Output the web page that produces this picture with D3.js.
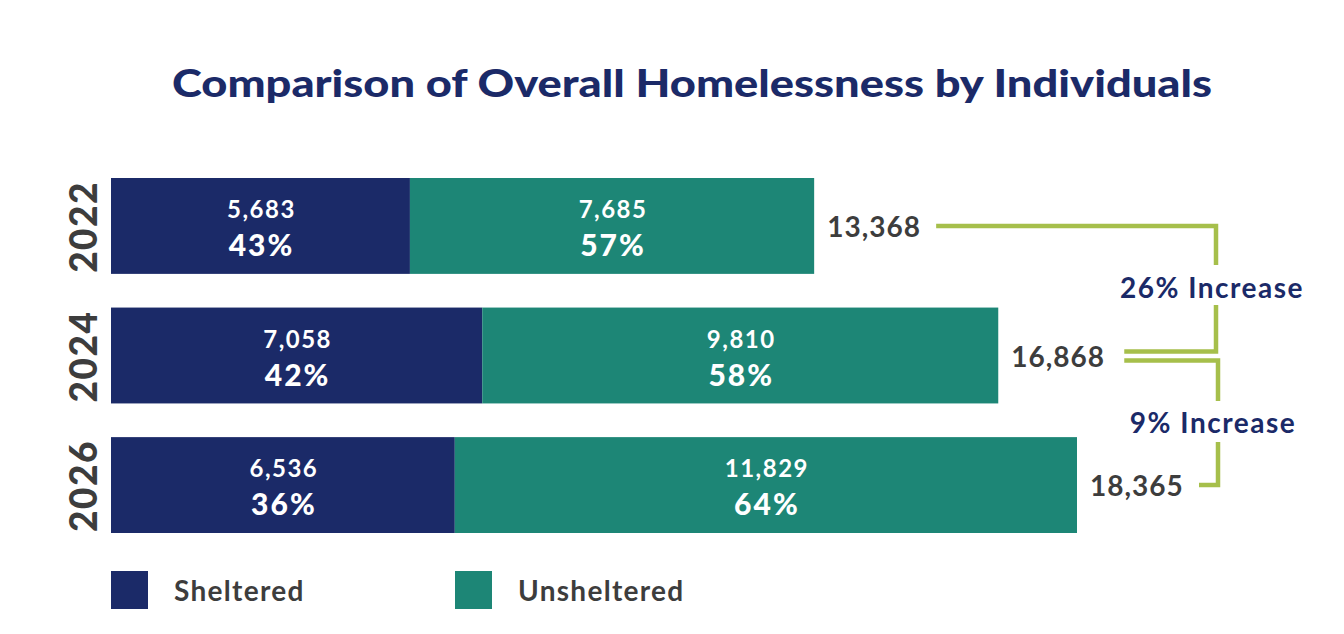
<!DOCTYPE html>
<html><head><meta charset="utf-8">
<script src="https://cdn.jsdelivr.net/npm/d3@7"></script>
<style>
html,body{margin:0;padding:0;background:#fff;}
svg{display:block;font-family:Lato, "Open Sans", sans-serif;}
</style></head>
<body>
<svg id="chart" width="1344" height="634"></svg>
<script>
const years = ["2022", "2024", "2026"];
const sheltered = [5683, 7058, 6536];
const unsheltered = [7685, 9810, 11829];
const shelteredPct = ["43%", "42%", "36%"];
const unshelteredPct = ["57%", "58%", "64%"];
const totals = [13368, 16868, 18365];
const increases = ["26% Increase", "9% Increase"];
const seriesNames = ["Sheltered", "Unsheltered"];
const colors = ["#1b2a68", "#1d8676"];

const svg = d3.select("#chart");
const fmt = d3.format(",");
const navy = "#1b2a68", grey = "#3d3d3d", green = "#a6bf4b";

svg.append("text").attr("x", 692).attr("y", 97).attr("text-anchor", "middle")
  .attr("font-size", 38).attr("font-weight", 900).attr("fill", navy)
  .attr("textLength", 1040).attr("lengthAdjust", "spacingAndGlyphs")
  .text("Comparison of Overall Homelessness by Individuals");

const x = d3.scaleLinear().domain([0, d3.max(totals)]).range([111, 1077]);
const y = d3.scaleBand().domain(years).range([178, 533]).paddingInner(0.26).paddingOuter(0);

const rows = years.map((yr, i) => ({yr, s: sheltered[i], u: unsheltered[i], sp: shelteredPct[i], up: unshelteredPct[i], t: totals[i]}));

const g = svg.append("g");
rows.forEach(r => {
  const y0 = y(r.yr), bh = y.bandwidth();
  const segs = [
    {x0: 0, x1: r.s, v: r.s, p: r.sp, c: colors[0]},
    {x0: r.s, x1: r.s + r.u, v: r.u, p: r.up, c: colors[1]}
  ];
  segs.forEach(s => {
    g.append("rect").attr("x", x(s.x0)).attr("y", y0).attr("width", x(s.x1) - x(s.x0)).attr("height", bh).attr("fill", s.c);
    const cx = (x(s.x0) + x(s.x1)) / 2;
    g.append("text").attr("x", cx + 1).attr("y", y0 + bh/2 - 8).attr("text-anchor", "middle")
      .attr("font-size", 24).attr("font-weight", 700).attr("letter-spacing", 1.5).attr("fill", "#fff").text(fmt(s.v));
    g.append("text").attr("x", cx + 1).attr("y", y0 + bh/2 + 30).attr("text-anchor", "middle")
      .attr("font-size", 30).attr("font-weight", 900).attr("letter-spacing", 2).attr("fill", "#fff").text(s.p);
  });
  g.append("text").attr("transform", `translate(97,${y0 + bh/2 + 1}) rotate(-90)`).attr("text-anchor", "middle")
    .attr("font-size", 37).attr("font-weight", 900).attr("letter-spacing", 1.5).attr("fill", grey).text(r.yr);
  g.append("text").attr("x", x(r.t) + 13).attr("y", y0 + bh/2 + 11)
    .attr("font-size", 28).attr("font-weight", 700).attr("letter-spacing", 1).attr("fill", grey).text(fmt(r.t));
});

// connectors
const c0 = y(years[0]) + y.bandwidth()/2;
const c1 = y(years[1]) + y.bandwidth()/2;
const c2 = y(years[2]) + y.bandwidth()/2;
const bx1 = 1216, bx2 = 1218;
const line = d3.line();
const path = pts => svg.append("path").attr("d", line(pts)).attr("fill", "none")
  .attr("stroke", green).attr("stroke-width", 4.5).attr("stroke-linejoin", "miter");
path([[x(totals[0]) + 122, c0], [bx1, c0], [bx1, 265]]);
path([[bx1, 305], [bx1, c1 - 4], [x(totals[1]) + 126, c1 - 4]]);
path([[x(totals[1]) + 126, c1 + 5], [bx2, c1 + 5], [bx2, 401]]);
path([[bx2, 442], [bx2, c2], [x(totals[2]) + 122, c2]]);

svg.append("text").attr("x", 1212).attr("y", 298).attr("text-anchor", "middle")
  .attr("font-size", 28).attr("font-weight", 700).attr("letter-spacing", 1.5).attr("fill", navy).text(increases[0]);
svg.append("text").attr("x", 1213).attr("y", 433).attr("text-anchor", "middle")
  .attr("font-size", 28).attr("font-weight", 700).attr("letter-spacing", 1.5).attr("fill", navy).text(increases[1]);

// legend
const legX = [111, 455];
seriesNames.forEach((n, i) => {
  svg.append("rect").attr("x", legX[i]).attr("y", 571).attr("width", 37).attr("height", 38).attr("fill", colors[i]);
  svg.append("text").attr("x", legX[i] + 63).attr("y", 601).attr("font-size", 28).attr("font-weight", 700)
    .attr("letter-spacing", 1.3).attr("fill", grey).text(n);
});
</script>
</body></html>
